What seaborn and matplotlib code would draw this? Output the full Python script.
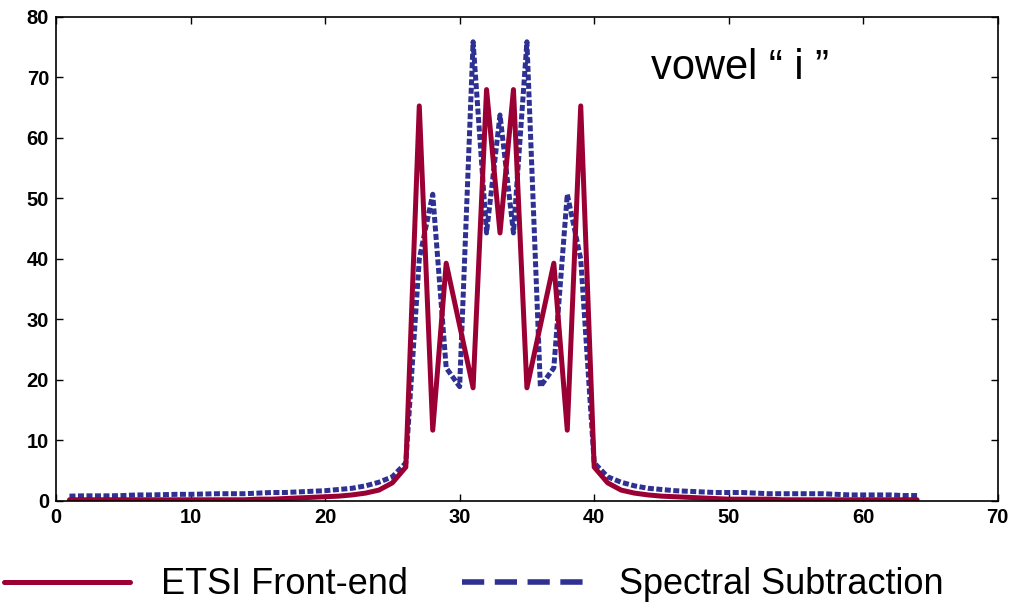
import numpy as np
import pandas as pd
import seaborn as sns
import matplotlib.pyplot as plt
from matplotlib.lines import Line2D

# filterbank channel index
channels = list(range(1, 65))

# ETSI front-end output
etsi = [0.2, 0.2, 0.2, 0.2, 0.2, 0.2, 0.2, 0.2, 0.2, 0.2,
        0.2, 0.2, 0.2, 0.2, 0.3, 0.3, 0.4, 0.5, 0.6, 0.7,
        0.8, 1.0, 1.3, 1.8, 3.0, 5.6, 65.3, 11.7, 39.3, 29.0,
        18.7, 68.0, 44.3, 68.0, 18.7, 29.0, 39.3, 11.7, 65.3, 5.6,
        3.0, 1.8, 1.3, 1.0, 0.8, 0.7, 0.6, 0.5, 0.4, 0.3,
        0.3, 0.3, 0.3, 0.2, 0.2, 0.2, 0.2, 0.2, 0.2, 0.2,
        0.2, 0.2, 0.2, 0.2]

# spectral subtraction output
spec_sub = [0.8, 0.85, 0.85, 0.85, 0.9, 1.0, 1.0, 1.05, 1.1, 1.1,
            1.15, 1.2, 1.2, 1.2, 1.3, 1.4, 1.4, 1.5, 1.6, 1.7,
            1.9, 2.1, 2.5, 3.1, 4.0, 6.3, 40.0, 50.7, 22.0, 18.9,
            75.9, 44.3, 63.8, 44.3, 75.9, 18.9, 22.0, 50.7, 40.0, 6.3,
            4.0, 3.1, 2.5, 2.1, 1.9, 1.7, 1.6, 1.5, 1.4, 1.4,
            1.4, 1.3, 1.2, 1.2, 1.2, 1.2, 1.2, 1.1, 1.0, 1.0,
            1.0, 1.0, 0.9, 0.9]

series_names = ["ETSI Front-end", "Spectral Subtraction"]
red = "#9b0034"
blue = "#2e3192"

df = pd.DataFrame({"channel": channels, "etsi": etsi, "ss": spec_sub})

sns.set_style("ticks")
plt.rcParams["font.family"] = ["Liberation Sans", "DejaVu Sans"]
plt.rcParams["text.color"] = "black"
plt.rcParams["xtick.color"] = "black"
plt.rcParams["ytick.color"] = "black"
plt.rcParams["axes.edgecolor"] = "black"

fig = plt.figure(figsize=(10.13, 6.06), dpi=100)
ax = fig.add_axes([0.0553, 0.1733, 0.9297, 0.7987])

sns.lineplot(data=df, x="channel", y="ss", ax=ax, color=blue, lw=3.6,
             linestyle=(0, (1.2, 0.5)), solid_capstyle="butt")
sns.lineplot(data=df, x="channel", y="etsi", ax=ax, color=red, lw=3.6)

ax.set_xlim(0, 70)
ax.set_ylim(0, 80)
ax.set_xticks(range(0, 71, 10))
ax.set_yticks(range(0, 81, 10))
ax.set_xlabel("")
ax.set_ylabel("")
ax.tick_params(direction="in", length=5, width=1, top=True, right=True,
               labelsize=14.5, pad=5, colors="black")
for lab in ax.get_xticklabels() + ax.get_yticklabels():
    lab.set_fontweight("bold")
for sp in ax.spines.values():
    sp.set_visible(True)
    sp.set_linewidth(1.2)

ax.text(44.2, 71.6, "vowel \u201c i \u201d", fontsize=30, va="center", ha="left",
        color="black")

handles = [Line2D([], [], color=red, lw=3.6),
           Line2D([], [], color=blue, lw=4.0, linestyle=(0, (4.0, 1.9)))]
leg = fig.legend(handles, series_names, loc="center left", bbox_to_anchor=(0.004, 0.035),
                 ncol=2, frameon=False, fontsize=26, handlelength=3.5,
                 handletextpad=0.85, columnspacing=1.5, borderpad=0, borderaxespad=0)
for t in leg.get_texts():
    t.set_color("black")

fig.savefig("out.png", dpi=100)
